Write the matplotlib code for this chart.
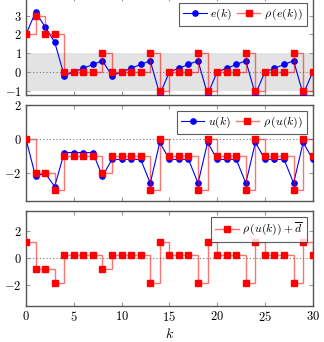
import numpy as np
import matplotlib
matplotlib.use("Agg")
import matplotlib.pyplot as plt

plt.rcParams["mathtext.fontset"] = "cm"
plt.rcParams["font.family"] = "serif"
plt.rcParams["font.serif"] = ["DejaVu Serif"]

k = np.arange(31)

e_k = [2.0, 3.2, 2.4, 1.6, -0.2, 0.0, 0.2, 0.4, 0.6, -0.2, 0.0, 0.2, 0.4, 0.6, -1.2,
       0.0, 0.2, 0.4, 0.6, -1.2, 0.0, 0.2, 0.4, 0.6, -1.2, 0.0, 0.2, 0.4, 0.6, -1.2, 0.0]
rho_e = [2, 3, 2, 2, 0, 0, 0, 0, 1, 0, 0, 0, 0, 1, -1,
         0, 0, 0, 1, -1, 0, 0, 0, 1, -1, 0, 0, 0, 1, -1, 0]

u_k = [0.0, -2.2, -2.0, -2.8, -0.8, -0.8, -0.8, -0.8, -2.2, -1.2, -1.2, -1.2, -1.2, -2.6, -0.2,
       -1.2, -1.2, -1.2, -2.6, -0.2, -1.2, -1.2, -1.2, -2.6, -0.2, -1.2, -1.2, -1.2, -2.6, -0.2, -1.2]
rho_u = [0, -2, -2, -3, -1, -1, -1, -1, -2, -1, -1, -1, -1, -3, 0,
         -1, -1, -1, -3, 0, -1, -1, -1, -3, 0, -1, -1, -1, -3, 0, -1]
d_bar = 1.2
rho_u_d = [v + d_bar for v in rho_u]

xticks = [0, 5, 10, 15, 20, 25, 30]

BLUE = "#0000ff"
RED = "#ff0000"
RED_LINE = (1, 0, 0, 0.55)
SPINE = "#555555"

fig = plt.figure(figsize=(3.24, 3.42), dpi=100)
left, width = 0.0802, 0.885
ax1 = fig.add_axes([left, 0.7222, width, 0.2865])
ax2 = fig.add_axes([left, 0.4132, width, 0.2798])
ax3 = fig.add_axes([left, 0.1061, width, 0.2778])


def style(ax, yticks, ylim, show_x):
    ax.set_xlim(0, 30)
    ax.set_ylim(*ylim)
    ax.set_xticks(xticks)
    ax.set_yticks(yticks)
    ax.set_yticklabels([f"${t}$" if t >= 0 else f"$-{-t}$" for t in yticks])
    if show_x:
        ax.set_xticklabels([f"${t}$" for t in xticks])
    else:
        ax.set_xticklabels([])
    ax.tick_params(direction="in", top=True, right=True, length=3,
                   color="#999999", labelsize=9, pad=3)
    for s in ax.spines.values():
        s.set_color(SPINE)
        s.set_linewidth(1.0)
    ax.axhline(0, color="#777777", ls=(0, (1, 2)), lw=0.8, zorder=1)


def legend(ax, ncol):
    lg = ax.legend(loc="upper right", ncol=ncol, fontsize=8.5, frameon=True,
                   fancybox=False, handlelength=2.0, handletextpad=0.3,
                   columnspacing=0.4, borderpad=0.35, borderaxespad=0.5)
    lg.get_frame().set_edgecolor("#333333")
    lg.get_frame().set_linewidth(0.8)


# panel 1
ax1.axhspan(-1, 1, color="#e3e3e3", lw=0, zorder=0)
ax1.plot(k, e_k, color=BLUE, lw=0.8, marker="o", ms=3.8, label=r"$e(k)$", zorder=3)
ax1.plot(k, rho_e, color=RED_LINE, lw=1.0, drawstyle="steps-post", marker="s", ms=4.5,
         mfc=RED, mec=RED, label=r"$\rho\,(e(k))$", zorder=4)
style(ax1, [-1, 0, 1, 2, 3], (-1.23, 4.0), False)
legend(ax1, 2)

# panel 2
ax2.plot(k, u_k, color=BLUE, lw=0.8, marker="o", ms=3.8, label=r"$u(k)$", zorder=3)
ax2.plot(k, rho_u, color=RED_LINE, lw=1.0, drawstyle="steps-post", marker="s", ms=4.5,
         mfc=RED, mec=RED, label=r"$\rho\,(u(k))$", zorder=4)
style(ax2, [-2, 0, 2], (-3.63, 2.0), False)
legend(ax2, 2)

# panel 3
ax3.plot(k, rho_u_d, color=RED_LINE, lw=1.0, drawstyle="steps-post", marker="s", ms=4.5,
         mfc=RED, mec=RED, label=r"$\rho\,(u(k))+\overline{d}$", zorder=4)
style(ax3, [-2, 0, 2], (-3.5, 3.5), True)
legend(ax3, 1)
ax3.set_xlabel(r"$k$", fontsize=10, labelpad=2)

fig.savefig("out.png", dpi=100)
